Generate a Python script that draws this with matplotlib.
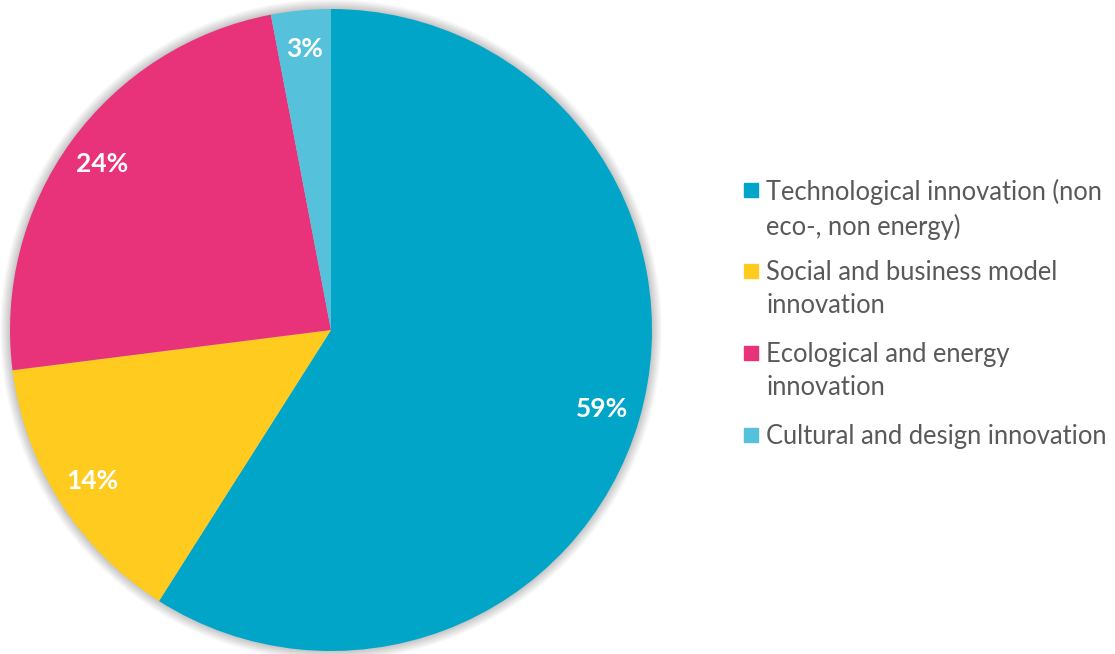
import matplotlib.pyplot as plt
from matplotlib.patches import Circle, Rectangle

# Share of innovation projects by type
categories = ['Technological innovation (non\neco-, non energy)',
              'Social and business model\ninnovation',
              'Ecological and energy\ninnovation',
              'Cultural and design innovation']
shares = [59, 14, 24, 3]
colors = ['#00A5C8', '#FFCB1F', '#E8327A', '#55C1DA']

W, H = 1115, 654
plt.rcParams['font.family'] = ['Lato', 'DejaVu Sans']

fig = plt.figure(figsize=(W / 100, H / 100), dpi=100)

# pie sits in a square axes, 642 px wide, centred at (331, 330)
cx, cy, r = 331, 330, 321
ax = fig.add_axes([(cx - r) / W, (H - cy - r) / H, 2 * r / W, 2 * r / H])

# soft grey halo around the disc
for k in range(12):
    ax.add_patch(Circle((0, 0), 1 + 0.0028 * k, color='#000000',
                        alpha=0.018, lw=0, zorder=0, clip_on=False))

wedges, _, autotexts = ax.pie(shares, colors=colors, startangle=90,
                              counterclock=False, radius=1,
                              autopct=lambda p: f'{round(p)}%',
                              pctdistance=0.88,
                              wedgeprops=dict(linewidth=0),
                              textprops=dict(color='white', fontsize=19,
                                             fontweight='bold'))
for w in wedges:
    w.set_zorder(2)
for t in autotexts:
    t.set_zorder(3)
ax.set_xlim(-1, 1)
ax.set_ylim(-1, 1)
ax.axis('off')

# legend, drawn by hand so the swatch lines up with the first text line
entry_y = [190, 271, 353, 435]
for name, col, y in zip(categories, colors, entry_y):
    fig.patches.append(Rectangle((744 / W, (H - y - 7) / H), 14 / W, 14 / H,
                                 transform=fig.transFigure, color=col))
    fig.text(766 / W, (H - y + 11) / H, name, fontsize=18.4, color='#595959',
             va='top', ha='left', linespacing=1.42)

fig.savefig('out.png', dpi=100, facecolor='white')
